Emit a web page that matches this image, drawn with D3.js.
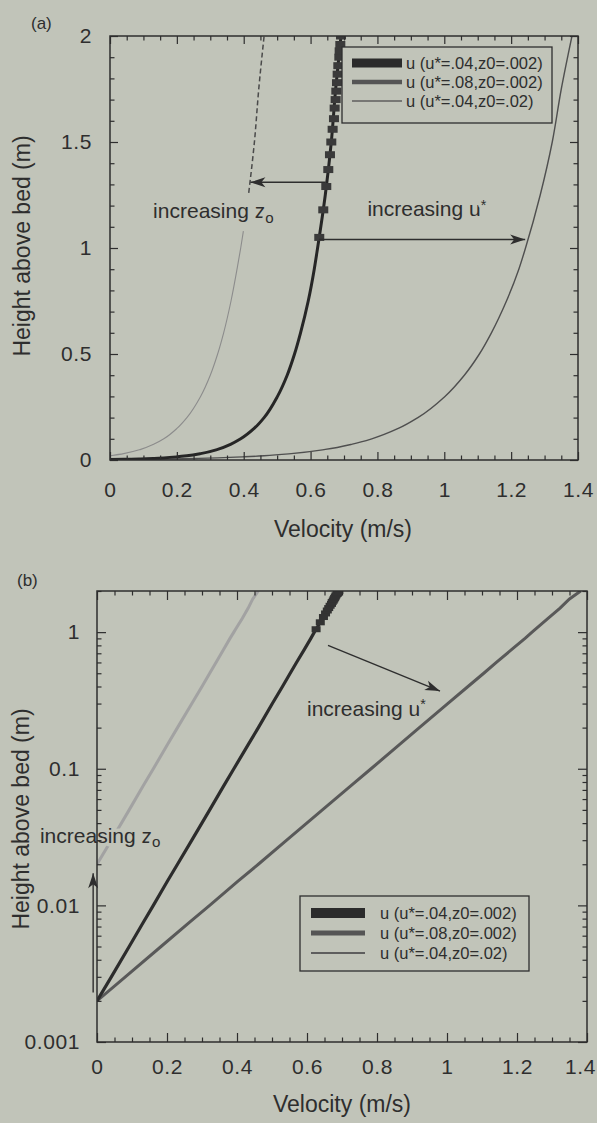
<!DOCTYPE html>
<html>
<head>
<meta charset="utf-8">
<script src="https://cdn.jsdelivr.net/npm/d3@7"></script>
<style>
  html, body { margin: 0; padding: 0; background: #c1c4b9; }
  svg { display: block; }
  text { font-family: "Liberation Sans", Arial, Helvetica, sans-serif; fill: #2e2e2e; }
</style>
</head>
<body>
<svg id="fig" width="597" height="1123"></svg>
<script>
// Log-law velocity profiles above a bed: u(z) for three shear velocity / roughness pairs.

// Heights (m) sampled for the two smooth-bed profiles (z0 = .002)
const heights = [0.002, 0.003, 0.005, 0.0075, 0.01, 0.015, 0.02, 0.03, 0.05, 0.075, 0.1, 0.15,
                 0.2, 0.3, 0.4, 0.5, 0.6, 0.75, 0.9, 1.0, 1.25, 1.5, 1.75, 2.0];
// u*=.04, z0=.002 (m/s)
const uA = [0, 0.041, 0.092, 0.132, 0.161, 0.201, 0.230, 0.271, 0.322, 0.362, 0.391, 0.432,
            0.461, 0.501, 0.530, 0.552, 0.570, 0.593, 0.611, 0.621, 0.644, 0.662, 0.675, 0.691];
// u*=.08, z0=.002 (m/s)
const uB = [0, 0.081, 0.183, 0.264, 0.322, 0.402, 0.461, 0.542, 0.644, 0.725, 0.783, 0.864,
            0.921, 1.002, 1.060, 1.105, 1.141, 1.186, 1.223, 1.243, 1.287, 1.323, 1.350, 1.382];

// Heights (m) and velocities for the rougher bed (u*=.04, z0=.02)
const heightsRough = [0.02, 0.03, 0.05, 0.075, 0.1, 0.15, 0.2, 0.3, 0.4, 0.5, 0.6, 0.75, 0.9,
                      1.0, 1.08, 1.26, 1.5, 1.75, 2.0];
const uC = [0, 0.041, 0.092, 0.132, 0.161, 0.201, 0.230, 0.271, 0.300, 0.322, 0.340, 0.362, 0.380,
            0.391, 0.399, 0.415, 0.432, 0.445, 0.461];

// Square symbols along the upper part of the u*=.04, z0=.002 profile
const markerHeights = [1.05, 1.18, 1.29, 1.37, 1.44, 1.5, 1.56, 1.61, 1.66, 1.7, 1.74, 1.78,
                       1.82, 1.86, 1.9, 1.93, 1.96, 2.0];
const markerU = [0.626, 0.638, 0.647, 0.653, 0.658, 0.662, 0.666, 0.670, 0.672, 0.675, 0.677,
                 0.679, 0.681, 0.683, 0.686, 0.687, 0.689, 0.691];

const seriesLabels = ["u (u*=.04,z0=.002)", "u (u*=.08,z0=.002)", "u (u*=.04,z0=.02)"];

const xTicks = [0, 0.2, 0.4, 0.6, 0.8, 1, 1.2, 1.4];
const xTickLabels = ["0", "0.2", "0.4", "0.6", "0.8", "1", "1.2", "1.4"];
const yTicksLin = [0, 0.5, 1, 1.5, 2];
const yTickLabelsLin = ["0", "0.5", "1", "1.5", "2"];
const yTicksLog = [0.001, 0.01, 0.1, 1];
const yTickLabelsLog = ["0.001", "0.01", "0.1", "1"];

const xTitle = "Velocity (m/s)";
const yTitle = "Height above bed (m)";

// ---------------------------------------------------------------------------
const PAGE = "#c1c4b9", INK = "#2e2e2e";
const svg = d3.select("#fig");

const defs = svg.append("defs");
defs.append("marker")
  .attr("id", "head").attr("markerUnits", "userSpaceOnUse")
  .attr("viewBox", "-16 -6 18 12").attr("refX", 0).attr("refY", 0)
  .attr("markerWidth", 18).attr("markerHeight", 12).attr("orient", "auto")
  .append("path").attr("d", "M0,0 L-15,-5 L-11,0 L-15,5 Z").attr("fill", INK);

const zip = (us, zs) => us.map((u, i) => ({ u, z: zs[i] }));
const profA = zip(uA, heights), profB = zip(uB, heights), profC = zip(uC, heightsRough);
const markers = zip(markerU, markerHeights);

function styleAxis(g) {
  g.select(".domain").remove();
  g.attr("font-size", null).attr("font-family", null);
  g.selectAll("line").attr("stroke", INK).attr("stroke-width", 1.2);
  g.selectAll("text").style("font-size", "21px").style("letter-spacing", "0.6px").attr("fill", INK);
}

function drawFrame(g, x, y, o) {
  const [x0, x1] = x.range();
  const [yb, yt] = y.range();
  const fmt = (labels, ticks) => (d) => labels[ticks.indexOf(d)];
  // bottom: major + labels, minor
  g.append("g").attr("transform", `translate(0,${yb})`)
    .call(d3.axisBottom(x).tickValues(o.xMinor).tickSizeInner(-o.minorLen).tickSizeOuter(0).tickFormat(""))
    .call(styleAxis);
  const bottom = g.append("g").attr("transform", `translate(0,${yb})`)
    .call(d3.axisBottom(x).tickValues(xTicks).tickSizeInner(-o.majorLen).tickSizeOuter(0)
      .tickPadding(o.xPad).tickFormat(fmt(xTickLabels, xTicks)))
    .call(styleAxis);
  if (o.lastLabelShift) {
    bottom.selectAll(".tick").filter(d => d === xTicks[xTicks.length - 1])
      .select("text").attr("dx", o.lastLabelShift);
  }
  // top: ticks only
  g.append("g").attr("transform", `translate(0,${yt})`)
    .call(d3.axisTop(x).tickValues(o.xMinor).tickSizeInner(-o.minorLen).tickSizeOuter(0).tickFormat(""))
    .call(styleAxis);
  g.append("g").attr("transform", `translate(0,${yt})`)
    .call(d3.axisTop(x).tickValues(xTicks).tickSizeInner(-o.majorLen).tickSizeOuter(0).tickFormat(""))
    .call(styleAxis);
  // left: major + labels, minor
  g.append("g").attr("transform", `translate(${x0},0)`)
    .call(d3.axisLeft(y).tickValues(o.yMinor).tickSizeInner(-o.minorLen).tickSizeOuter(0).tickFormat(""))
    .call(styleAxis);
  g.append("g").attr("transform", `translate(${x0},0)`)
    .call(d3.axisLeft(y).tickValues(o.yTicks).tickSizeInner(-o.majorLen).tickSizeOuter(0)
      .tickPadding(o.yPad).tickFormat(fmt(o.yLabels, o.yTicks)))
    .call(styleAxis);
  // right: ticks only
  g.append("g").attr("transform", `translate(${x1},0)`)
    .call(d3.axisRight(y).tickValues(o.yMinor).tickSizeInner(-o.minorLen).tickSizeOuter(0).tickFormat(""))
    .call(styleAxis);
  g.append("g").attr("transform", `translate(${x1},0)`)
    .call(d3.axisRight(y).tickValues(o.yTicks).tickSizeInner(-o.majorLen).tickSizeOuter(0).tickFormat(""))
    .call(styleAxis);
  g.append("rect").attr("x", x0).attr("y", yt).attr("width", x1 - x0).attr("height", yb - yt)
    .attr("fill", "none").attr("stroke", INK).attr("stroke-width", 1.5);
}

function drawLegend(g, o) {
  const styles = [
    { w: o.w1, c: "#2b2b2b" },
    { w: o.w2, c: "#555" },
    { w: o.w3, c: "#5e5e5e" }
  ];
  g.append("rect").attr("x", o.x).attr("y", o.y).attr("width", o.w).attr("height", o.h)
    .attr("fill", PAGE).attr("stroke", INK).attr("stroke-width", 1.3);
  seriesLabels.forEach((lab, i) => {
    const cy = o.rowY[i];
    g.append("line").attr("x1", o.sx0).attr("x2", o.sx1).attr("y1", cy).attr("y2", cy)
      .attr("stroke", styles[i].c).attr("stroke-width", styles[i].w);
    g.append("text").attr("x", o.tx).attr("y", cy).attr("dy", "0.36em")
      .style("font-size", o.fs + "px").text(lab);
  });
}

function annotation(g, x, y, u, z, main, sub, kind, sz) {
  const t = g.append("text").attr("x", x(u)).attr("y", y(z))
    .style("font-size", sz + "px")
    .attr("stroke", PAGE).attr("stroke-width", 7).attr("paint-order", "stroke")
    .attr("stroke-linejoin", "round");
  t.append("tspan").text(main);
  if (kind === "sub") t.append("tspan").attr("dy", "0.28em").style("font-size", (sz * 0.72) + "px").text(sub);
  else t.append("tspan").attr("dy", "-0.45em").style("font-size", (sz * 0.68) + "px").text(sub);
}

function arrow(g, x, y, u0, z0, u1, z1) {
  g.append("line").attr("x1", x(u0)).attr("y1", y(z0)).attr("x2", x(u1)).attr("y2", y(z1))
    .attr("stroke", INK).attr("stroke-width", 1.4).attr("marker-end", "url(#head)");
}

const xMinor = d3.range(0, 1.4001, 0.05).map(v => +v.toFixed(2)).filter(v => !xTicks.includes(v));

// ---------------------------- panel (a): linear heights
{
  const x = d3.scaleLinear().domain([0, 1.4]).range([110, 578]);
  const y = d3.scaleLinear().domain([0, 2]).range([460, 36]);
  const g = svg.append("g");
  svg.append("text").attr("x", 31).attr("y", 29).style("font-size", "17px").text("(a)");

  defs.append("clipPath").attr("id", "clipA").append("rect")
    .attr("x", 110).attr("y", 36).attr("width", 468).attr("height", 424);
  const plot = g.append("g").attr("clip-path", "url(#clipA)");
  const line = d3.line().x(d => x(d.u)).y(d => y(d.z)).curve(d3.curveMonotoneY);

  plot.append("path").datum(profC.filter(d => d.z <= 1.08)).attr("d", line)
    .attr("fill", "none").attr("stroke", "#8c8c8c").attr("stroke-width", 1.1);
  plot.append("path").datum(profC.filter(d => d.z >= 1.26)).attr("d", line)
    .attr("fill", "none").attr("stroke", "#4a4a4a").attr("stroke-width", 1.5)
    .attr("stroke-dasharray", "5,3");
  plot.append("path").datum(profB).attr("d", line)
    .attr("fill", "none").attr("stroke", "#4f4f4f").attr("stroke-width", 1.4);
  plot.append("path").datum(profA).attr("d", line)
    .attr("fill", "none").attr("stroke", "#262626").attr("stroke-width", 3);

  arrow(g, x, y, 0.645, 1.31, 0.42, 1.31);
  arrow(g, x, y, 0.625, 1.04, 1.242, 1.04);

  plot.selectAll("rect.sq").data(markers).join("rect").attr("class", "sq")
    .attr("x", d => x(d.u) - 5).attr("y", d => y(d.z) - 3.5).attr("width", 10).attr("height", 7)
    .attr("fill", "#3a3a3a");

  annotation(g, x, y, 0.129, 1.14, "increasing z", "o", "sub", 21);
  annotation(g, x, y, 0.77, 1.15, "increasing u", "*", "sup", 21);

  drawFrame(g, x, y, {
    xMinor, yMinor: d3.range(0.1, 2, 0.1).map(v => +v.toFixed(1)).filter(v => !yTicksLin.includes(v)),
    yTicks: yTicksLin, yLabels: yTickLabelsLin, majorLen: 8, minorLen: 4.5, xPad: 22, yPad: 18
  });

  drawLegend(g, { x: 342, y: 47, w: 210, h: 76, rowY: [63, 82, 101], sx0: 352, sx1: 402, tx: 406,
                  fs: 16.5, w1: 9, w2: 4.5, w3: 1.6 });

  g.append("text").attr("x", 343).attr("y", 537).attr("text-anchor", "middle")
    .style("font-size", "23px").text(xTitle);
  g.append("text").attr("transform", "translate(30,246) rotate(-90)").attr("text-anchor", "middle")
    .style("font-size", "23px").text(yTitle);
}

// ---------------------------- panel (b): logarithmic heights
{
  const x = d3.scaleLinear().domain([0, 1.4]).range([97, 587]);
  const y = d3.scaleLog().domain([0.001, 2]).range([1042, 591]);
  const g = svg.append("g");
  svg.append("text").attr("x", 17).attr("y", 586).style("font-size", "17px").text("(b)");

  defs.append("clipPath").attr("id", "clipB").append("rect")
    .attr("x", 97).attr("y", 591).attr("width", 490).attr("height", 451);
  const plot = g.append("g").attr("clip-path", "url(#clipB)");
  const line = d3.line().x(d => x(d.u)).y(d => y(d.z));

  plot.append("path").datum(profC).attr("d", line)
    .attr("fill", "none").attr("stroke", "#a2a2a2").attr("stroke-width", 3);
  plot.append("path").datum(profB).attr("d", line)
    .attr("fill", "none").attr("stroke", "#595959").attr("stroke-width", 3);
  plot.append("path").datum(profA).attr("d", line)
    .attr("fill", "none").attr("stroke", "#2c2c2c").attr("stroke-width", 3.2);
  plot.selectAll("rect.sq").data(markers).join("rect").attr("class", "sq")
    .attr("x", d => x(d.u) - 4.5).attr("y", d => y(d.z) - 3).attr("width", 9).attr("height", 6)
    .attr("fill", "#333");

  arrow(g, x, y, 0.66, 0.80, 0.98, 0.37);
  arrow(g, x, y, -0.011, 0.0023, -0.011, 0.0172);

  annotation(g, x, y, 0.6, 0.245, "increasing u", "*", "sup", 21);
  annotation(g, x, y, -0.163, 0.0286, "increasing z", "o", "sub", 21);

  const yMinor = [];
  [0.001, 0.01, 0.1, 1].forEach(dec => d3.range(2, 10).forEach(k => {
    const v = +(dec * k).toPrecision(2);
    if (v <= 2) yMinor.push(v);
  }));

  drawFrame(g, x, y, {
    xMinor, yMinor, yTicks: yTicksLog, yLabels: yTickLabelsLog, majorLen: 9, minorLen: 4.5,
    xPad: 17, yPad: 17, lastLabelShift: -7
  });

  drawLegend(g, { x: 300, y: 896, w: 229, h: 75, rowY: [913, 933, 953], sx0: 311, sx1: 365, tx: 380,
                  fs: 16.5, w1: 10, w2: 5, w3: 2 });

  g.append("text").attr("x", 342).attr("y", 1112).attr("text-anchor", "middle")
    .style("font-size", "23px").text(xTitle);
  g.append("text").attr("transform", "translate(29,819) rotate(-90)").attr("text-anchor", "middle")
    .style("font-size", "23px").text(yTitle);
}
</script>
</body>
</html>
